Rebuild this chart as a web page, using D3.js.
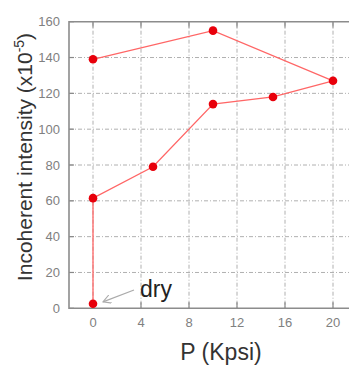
<!DOCTYPE html>
<html>
<head>
<meta charset="utf-8">
<script src="https://cdn.jsdelivr.net/npm/d3@7"></script>
<style>
  body { margin: 0; background: #fff; }
  svg { display: block; font-family: "Liberation Sans", Arial, sans-serif; }
</style>
</head>
<body>
<svg id="chart" width="349" height="365"></svg>
<script>
// values, in drawing order
const pressure  = [0, 0, 5, 10, 15, 20, 10, 0];
const intensity = [2.5, 61.5, 79, 114, 118, 127, 155, 139];
const xTicks = [0, 4, 8, 12, 16, 20];
const yTicks = [0, 20, 40, 60, 80, 100, 120, 140, 160];

const svg = d3.select("#chart");
const pLeft = 69, pRight = 351, pTop = 21.7, pBottom = 308.3;

const x = d3.scaleLinear().domain([-2, 21.5]).range([pLeft, pRight]);
const y = d3.scaleLinear().domain([0, 160]).range([pBottom, pTop]);

// grid
const grid = svg.append("g")
  .attr("stroke", "#b0b0b0")
  .attr("stroke-width", 1)
  .attr("stroke-dasharray", "4,2,1,2");
grid.selectAll(".gx").data(xTicks).enter().append("line")
  .attr("x1", d => x(d)).attr("x2", d => x(d))
  .attr("y1", pTop).attr("y2", pBottom);
grid.selectAll(".gy").data(yTicks.slice(1, -1)).enter().append("line")
  .attr("x1", pLeft).attr("x2", pRight)
  .attr("y1", d => y(d)).attr("y2", d => y(d));

// inward ticks
const ticks = svg.append("g").attr("stroke", "#888").attr("stroke-width", 1.2);
ticks.selectAll(".tb").data(xTicks).enter().append("line")
  .attr("x1", d => x(d)).attr("x2", d => x(d))
  .attr("y1", pBottom).attr("y2", pBottom - 6);
ticks.selectAll(".tt").data(xTicks).enter().append("line")
  .attr("x1", d => x(d)).attr("x2", d => x(d))
  .attr("y1", pTop).attr("y2", pTop + 6);
ticks.selectAll(".tl").data(yTicks).enter().append("line")
  .attr("x1", pLeft).attr("x2", pLeft + 5)
  .attr("y1", d => y(d)).attr("y2", d => y(d));

// frame (right side is cut off in the picture)
svg.append("path")
  .attr("d", `M${pRight},${pTop}H${pLeft}V${pBottom}H${pRight}`)
  .attr("fill", "none")
  .attr("stroke", "#8c8c8c")
  .attr("stroke-width", 1.6);

// tick labels
svg.append("g").selectAll("text").data(xTicks).enter().append("text")
  .attr("x", d => x(d)).attr("y", pBottom + 19)
  .attr("text-anchor", "middle")
  .attr("font-size", 13).attr("fill", "#808080")
  .text(d => d);
svg.append("g").selectAll("text").data(yTicks).enter().append("text")
  .attr("x", pLeft - 9).attr("y", d => y(d) + 4.6)
  .attr("text-anchor", "end")
  .attr("font-size", 13).attr("fill", "#808080")
  .text(d => d);

// series
const pts = pressure.map((p, i) => [p, intensity[i]]);
svg.append("path")
  .datum(pts)
  .attr("fill", "none")
  .attr("stroke", "#f66")
  .attr("stroke-width", 1.3)
  .attr("d", d3.line().x(d => x(d[0])).y(d => y(d[1])));
svg.append("g").selectAll("circle").data(pts).enter().append("circle")
  .attr("cx", d => x(d[0])).attr("cy", d => y(d[1]))
  .attr("r", 4.3)
  .attr("fill", "#e8000b");

// "dry" annotation
svg.append("defs").append("marker")
  .attr("id", "head").attr("viewBox", "0 0 10 10")
  .attr("refX", 9).attr("refY", 5)
  .attr("markerWidth", 9).attr("markerHeight", 9)
  .attr("orient", "auto").attr("markerUnits", "userSpaceOnUse")
  .append("path").attr("d", "M0,0L9,5L0,10")
  .attr("fill", "none").attr("stroke", "#aaa").attr("stroke-width", 1.2);
svg.append("line")
  .attr("x1", 134).attr("y1", 290)
  .attr("x2", x(0) + 10).attr("y2", y(intensity[0]) - 2)
  .attr("stroke", "#aaa").attr("stroke-width", 1.2)
  .attr("marker-end", "url(#head)");
svg.append("text")
  .attr("x", 140).attr("y", 296.5)
  .attr("font-size", 23).attr("fill", "#222")
  .text("dry");

// axis titles
svg.append("text")
  .attr("x", 221).attr("y", 360)
  .attr("text-anchor", "middle")
  .attr("font-size", 23).attr("fill", "#333")
  .text("P (Kpsi)");
const yl = svg.append("text")
  .attr("transform", "translate(32,157) rotate(-90)")
  .attr("text-anchor", "middle")
  .attr("font-size", 21).attr("fill", "#333");
yl.append("tspan").text("Incoherent intensity (x10");
yl.append("tspan").attr("font-size", 14).attr("dy", -8).text("-5");
yl.append("tspan").attr("dy", 8).text(")");
</script>
</body>
</html>
